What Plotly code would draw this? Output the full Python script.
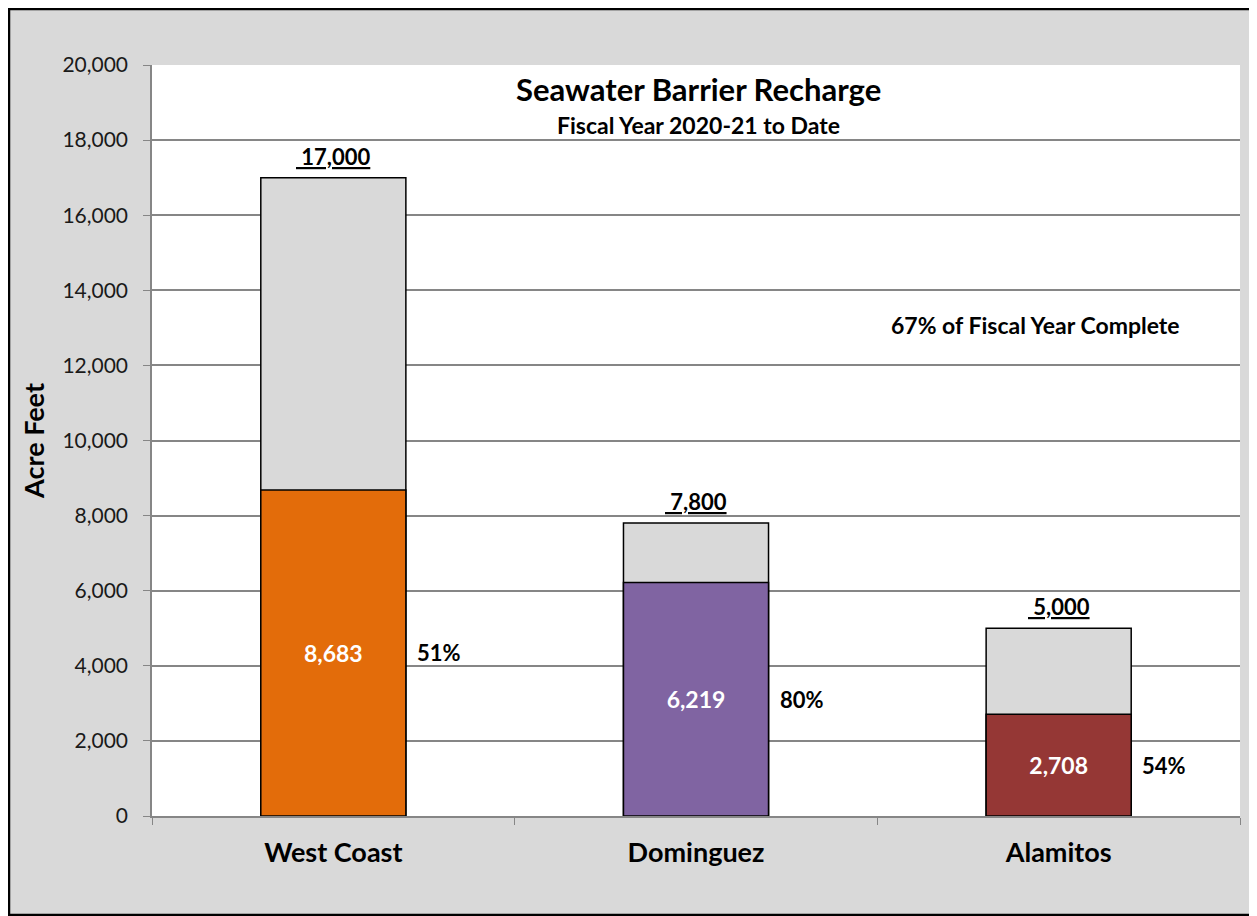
import plotly.graph_objects as go

barriers = ["West Coast", "Dominguez", "Alamitos"]
targets = [17000, 7800, 5000]
recharged = [8683, 6219, 2708]
pct_done = [51, 80, 54]
bar_colors = ["#E36C0A", "#8064A2", "#953735"]

FONT = "Lato"
# the page body has an 8px margin, so the figure starts at (8, 8)
W, H = 1249, 908
L, R, T, B = 144, 17, 57, 100
OFF = 8


def px_x(p):
    # page pixel -> paper x
    return (p - OFF - L) / (W - L - R)


def px_y(p):
    # page pixel -> paper y
    return (H - B - (p - OFF)) / (H - T - B)


fig = go.Figure()
fig.add_trace(go.Bar(
    x=barriers, y=targets, width=0.4,
    marker=dict(color="#D9D9D9", line=dict(color="black", width=1.5)),
    hoverinfo="skip",
))
fig.add_trace(go.Bar(
    x=barriers, y=recharged, width=0.4,
    marker=dict(color=bar_colors, line=dict(color="black", width=1.5)),
    text=[f"<b>{v:,}</b>" for v in recharged],
    textposition="inside", insidetextanchor="middle",
    textfont=dict(family=FONT, size=23, color="white"),
    hoverinfo="skip",
))

annotations = []
for i, (tgt, act, pc) in enumerate(zip(targets, recharged, pct_done)):
    annotations.append(dict(
        x=i, y=tgt, xref="x", yref="y", yanchor="bottom", yshift=6,
        text=f"<b><u> {tgt:,}</u></b>", showarrow=False,
        font=dict(family=FONT, size=22, color="black"),
    ))
    annotations.append(dict(
        x=i + 0.225, y=act / 2, xref="x", yref="y", xanchor="left",
        text=f"<b>{pc}%</b>", showarrow=False,
        font=dict(family=FONT, size=22, color="black"),
    ))

annotations += [
    dict(x=px_x(698), y=px_y(89), xref="paper", yref="paper", showarrow=False,
         xanchor="center", yanchor="middle",
         text="<b>Seawater Barrier Recharge</b>",
         font=dict(family=FONT, size=31, color="black")),
    dict(x=px_x(698), y=px_y(125), xref="paper", yref="paper", showarrow=False,
         xanchor="center", yanchor="middle",
         text="<b>Fiscal Year 2020-21 to Date</b>",
         font=dict(family=FONT, size=23, color="black")),
    dict(x=px_x(1035), y=px_y(325), xref="paper", yref="paper", showarrow=False,
         xanchor="center", yanchor="middle",
         text="<b>67% of Fiscal Year Complete</b>",
         font=dict(family=FONT, size=23, color="black")),
]

shapes = [
    dict(type="rect", xref="paper", yref="paper", layer="above",
         x0=px_x(OFF + 1), x1=px_x(OFF + W - 1), y0=px_y(OFF + 1), y1=px_y(OFF + H - 1),
         fillcolor="rgba(0,0,0,0)", line=dict(color="black", width=2.5)),
]

fig.update_layout(
    width=W, height=H,
    margin=dict(l=L, r=R, t=T, b=B),
    paper_bgcolor="#D9D9D9", plot_bgcolor="white",
    barmode="overlay", showlegend=False,
    font=dict(family=FONT, color="black"),
    annotations=annotations, shapes=shapes,
    uniformtext=dict(mode="show", minsize=10),
)
fig.update_xaxes(
    type="category", range=[-0.5, 2.5],
    showline=True, linecolor="#868686", linewidth=1.5,
    ticks="outside", tickson="boundaries", ticklen=7, tickcolor="#868686",
    tickfont=dict(family=FONT, size=27, color="black"),
    ticklabelstandoff=12,
    tickprefix="<b>", ticksuffix="</b>",
    showgrid=False,
)
fig.update_yaxes(
    range=[0, 20000], dtick=2000, tickformat=",",
    showline=True, linecolor="#868686", linewidth=1.5,
    ticks="outside", ticklen=7, tickcolor="#868686",
    gridcolor="#868686", gridwidth=1.5,
    tickfont=dict(family=FONT, size=21, color="#1a1a1a"),
    ticklabelstandoff=11,
    title=dict(text="<b>Acre Feet</b>", font=dict(family=FONT, size=27), standoff=10),
    zeroline=False,
)

fig.write_html("out.html")
